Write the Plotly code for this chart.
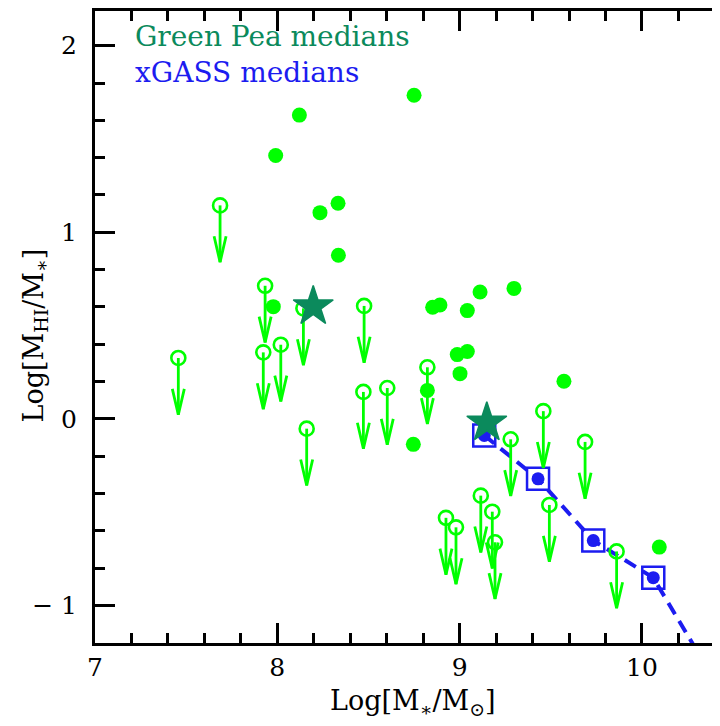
import plotly.graph_objects as go

# Green Pea detections (filled)
det_x = [8.121, 7.991, 8.234, 8.333, 8.750, 8.335, 7.978, 8.852, 8.892, 9.042,
         9.112, 9.298, 8.987, 9.042, 9.002, 9.572, 8.823, 8.746, 10.095]
det_y = [1.628, 1.411, 1.105, 1.155, 1.734, 0.877, 0.601, 0.598, 0.610, 0.580,
         0.680, 0.699, 0.344, 0.361, 0.242, 0.201, 0.152, -0.137, -0.688]

# Green Pea upper limits (open circles with arrows)
lim_x = [7.686, 7.457, 7.933, 7.923, 8.019, 8.143, 8.161, 8.476, 8.472, 8.603,
         8.823, 9.280, 9.459, 9.688, 8.925, 8.980, 9.116, 9.179, 9.194, 9.492, 9.861]
lim_y = [1.144, 0.326, 0.713, 0.356, 0.397, 0.592, -0.053, 0.605, 0.144, 0.165,
         0.276, -0.110, 0.041, -0.124, -0.531, -0.582, -0.412, -0.498, -0.662, -0.462, -0.711]

# Green Pea medians (stars)
gp_med_x = [8.197, 9.149]
gp_med_y = [0.602, -0.021]

# xGASS medians
xg_x = [9.135, 9.430, 9.733, 10.062, 10.36]
xg_y = [-0.089, -0.322, -0.653, -0.852, -1.34]

x_ticks = [7, 8, 9, 10]
y_ticks = [-1, 0, 1, 2]
y_ticktext = ["\u2212 1", "0", "1", "2"]

LIME = "#00ff00"
BLUE = "#1c1cf0"
DKGREEN = "#0b8a5c"
FONT = "DejaVu Serif"

X_RANGE = [7.0, 10.428]
Y_RANGE = [-1.202, 2.186]
W, H = 712, 718
ML, MR, MT, MB = 87, 0, 0, 83

# arrow geometry in data units derived from axis scales
px_x = (W - ML - MR) / (X_RANGE[1] - X_RANGE[0])
px_y = (H - MT - MB) / (Y_RANGE[1] - Y_RANGE[0])
arrow_len = 57 / px_y
head_len = 26 / px_y
head_half = 6 / px_x

ax_, ay_ = [], []
for x, y in zip(lim_x, lim_y):
    tip = y - arrow_len
    ax_ += [x, x, None, x - head_half, x, x + head_half, None]
    ay_ += [y, tip, None, tip + head_len, tip, tip + head_len, None]

fig = go.Figure()

# xGASS dashed line
fig.add_trace(go.Scatter(x=xg_x, y=xg_y, mode="lines",
                         line=dict(color=BLUE, width=4, dash="13px,8px"),
                         hoverinfo="skip", showlegend=False))
fig.add_trace(go.Scatter(x=xg_x, y=xg_y, mode="markers",
                         marker=dict(symbol="square-open", size=22, color=BLUE,
                                     line=dict(width=2.5, color=BLUE)),
                         showlegend=False))
fig.add_trace(go.Scatter(x=xg_x, y=xg_y, mode="markers",
                         marker=dict(symbol="circle", size=13, color=BLUE),
                         showlegend=False))

# arrows
fig.add_trace(go.Scatter(x=ax_, y=ay_, mode="lines",
                         line=dict(color=LIME, width=2.8),
                         hoverinfo="skip", showlegend=False))
# open circles
fig.add_trace(go.Scatter(x=lim_x, y=lim_y, mode="markers",
                         marker=dict(symbol="circle-open", size=14, color=LIME,
                                     line=dict(width=2.6, color=LIME)),
                         showlegend=False))
# detections
fig.add_trace(go.Scatter(x=det_x, y=det_y, mode="markers",
                         marker=dict(symbol="circle", size=15, color=LIME),
                         showlegend=False))
# Green Pea medians
fig.add_trace(go.Scatter(x=gp_med_x, y=gp_med_y, mode="markers",
                         marker=dict(symbol="star", size=30, color=DKGREEN,
                                     line=dict(width=1.5, color=DKGREEN)),
                         showlegend=False))

axis_common = dict(showgrid=False, zeroline=False, showline=True,
                   linecolor="black", linewidth=3, ticks="inside",
                   tickcolor="black", tickwidth=2.5, ticklen=20,
                   tickfont=dict(family=FONT, size=25, color="black"))

fig.update_xaxes(range=X_RANGE, tickvals=x_ticks, mirror="ticks",
                 minor=dict(dtick=0.2, tick0=7, ticklen=10, tickwidth=2.5,
                            tickcolor="black", ticks="inside"),
                 ticklabelstandoff=0,
                 **axis_common)
fig.update_yaxes(range=Y_RANGE, tickvals=y_ticks, ticktext=y_ticktext,
                 minor=dict(dtick=0.2, tick0=0, ticklen=10, tickwidth=2.5,
                            tickcolor="black", ticks="inside"),
                 ticklabelstandoff=10,
                 **axis_common)

# right-side major tick stubs (spine lies just beyond the visible area)
pw = W - ML - MR
for yv in y_ticks:
    fig.add_shape(type="line", xref="paper", yref="y",
                  x0=1 - 7 / pw, x1=1.0, y0=yv, y1=yv,
                  line=dict(color="black", width=2.5))

# axis titles
ph = H - MT - MB
fig.add_annotation(xref="paper", yref="paper", x=(35 - 95) / pw, y=(643 - 334) / ph,
                   xanchor="center", yanchor="middle", textangle=-90, showarrow=False,
                   text="Log[M<sub>HI</sub>/M<sub>\u2217</sub>]",
                   font=dict(family=FONT, size=27, color="black"))
fig.add_annotation(xref="paper", yref="paper", x=(413 - 95) / pw, y=(643 - 703) / ph,
                   xanchor="center", yanchor="middle", showarrow=False,
                   text="Log[M<sub>\u2217</sub>/M<sub>\u2299</sub>]",
                   font=dict(family=FONT, size=27, color="black"))

fig.add_annotation(x=7.208, y=2.048, xref="x", yref="y", xanchor="left",
                   yanchor="middle", showarrow=False, text="Green Pea medians",
                   font=dict(family=FONT, size=28, color=DKGREEN))
fig.add_annotation(x=7.208, y=1.855, xref="x", yref="y", xanchor="left",
                   yanchor="middle", showarrow=False, text="xGASS medians",
                   font=dict(family=FONT, size=28, color=BLUE))

fig.update_layout(width=W, height=H, margin=dict(l=ML, r=MR, t=MT, b=MB),
                  plot_bgcolor="white", paper_bgcolor="white")

fig.write_html("out.html")
